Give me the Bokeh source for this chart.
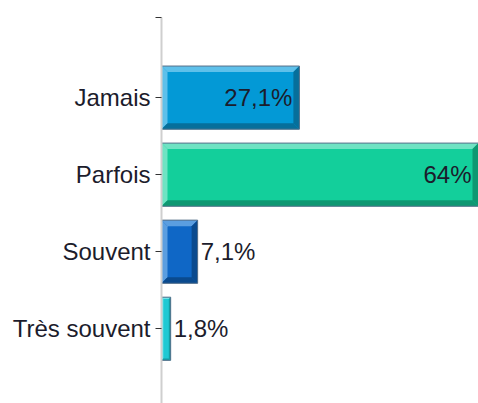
from bokeh.plotting import figure
from bokeh.models import Range1d, FixedTicker
from bokeh.embed import file_html
from bokeh.resources import INLINE
from bokeh.core.properties import value

# ---- data ----
categories = ["Jamais", "Parfois", "Souvent", "Très souvent"]
percents = [27.1, 64.0, 7.1, 1.8]
value_labels = ["27,1%", "64%", "7,1%", "1,8%"]
face_colors = ["#0399d6", "#13cf9b", "#0f67c6", "#1fc9d3"]
light_colors = ["#5ec0ea", "#6fe3c3", "#5b9ee0", "#72e2e8"]
dark_colors = ["#066f9b", "#0e9872", "#0a4a8e", "#149ca4"]

# ---- layout constants ----
W, H = 478, 403
LEFT, TOP = 161, 17
frame_w = W - LEFT
frame_h = H - TOP
x_end = 62.3
y_start, y_end = 0.03, 5.04
px_x = frame_w / x_end
px_y = frame_h / (y_end - y_start)
bar_h = 0.82
FONT = "Liberation Sans"
FSIZE = "24px"

p = figure(width=W, height=H, output_backend="svg", toolbar_location=None,
           x_range=Range1d(0, x_end), y_range=Range1d(y_start, y_end),
           x_axis_location=None, min_border_left=LEFT, min_border_top=TOP,
           min_border_right=0, min_border_bottom=0)
p.outline_line_color = None
p.xgrid.visible = False
p.ygrid.visible = False
p.background_fill_color = "white"
p.border_fill_color = "white"

n = len(categories)
ys = [n - i for i in range(n)]

for i, (cat, v) in enumerate(zip(categories, percents)):
    y = ys[i]
    x0, x1 = 0.0, min(v, x_end)
    y0, y1 = y - bar_h / 2, y + bar_h / 2
    w_px = (x1 - x0) * px_x
    b_px = min(6.0, w_px * 0.2)
    bx = b_px / px_x
    by = b_px / px_y
    # face
    p.quad(left=[x0], right=[x1], bottom=[y0], top=[y1],
           fill_color=face_colors[i], line_color=None)
    # light top & left
    p.patch([x0, x1, x1 - bx, x0 + bx], [y1, y1, y1 - by, y1 - by],
            fill_color=light_colors[i], line_color=None)
    p.patch([x0, x0, x0 + bx, x0 + bx], [y0, y1, y1 - by, y0 + by],
            fill_color=light_colors[i], line_color=None)
    # dark bottom & right
    p.patch([x0, x1, x1 - bx, x0 + bx], [y0, y0, y0 + by, y0 + by],
            fill_color=dark_colors[i], line_color=None)
    p.patch([x1, x1, x1 - bx, x1 - bx], [y0, y1, y1 - by, y0 + by],
            fill_color=dark_colors[i], line_color=None)
    # outline
    p.quad(left=[x0], right=[x1], bottom=[y0], top=[y1],
           fill_color=None, line_color="#56708a", line_width=1)

# value labels
in_x, in_y, in_t = [], [], []
out_x, out_y, out_t = [], [], []
for i, v in enumerate(percents):
    if v > 15:
        in_x.append(min(v, x_end)); in_y.append(ys[i]); in_t.append(value_labels[i])
    else:
        out_x.append(v); out_y.append(ys[i]); out_t.append(value_labels[i])

p.text(x=in_x, y=in_y, text=in_t, text_align="right", text_baseline="middle",
       x_offset=-7, text_font=value(FONT), text_font_size=FSIZE, text_color="#1c1c2c")
p.text(x=out_x, y=out_y, text=out_t, text_align="left", text_baseline="middle",
       x_offset=3, text_font=value(FONT), text_font_size=FSIZE, text_color="#1c1c2c")

# y axis
yax = p.yaxis[0]
yax.ticker = FixedTicker(ticks=ys + [y_end])
overrides = {y: c for y, c in zip(ys, categories)}
overrides[y_end] = ""
yax.major_label_overrides = overrides
yax.axis_line_color = "#cfcfcf"
yax.axis_line_width = 2
yax.major_tick_line_color = "#333333"
yax.major_tick_in = 0
yax.major_tick_out = 6
yax.minor_tick_line_color = None
yax.major_label_standoff = 5
yax.major_label_text_font = FONT
yax.major_label_text_font_size = FSIZE
yax.major_label_text_color = "#1c1c2c"

open("out.html", "w").write(file_html(p, INLINE))
